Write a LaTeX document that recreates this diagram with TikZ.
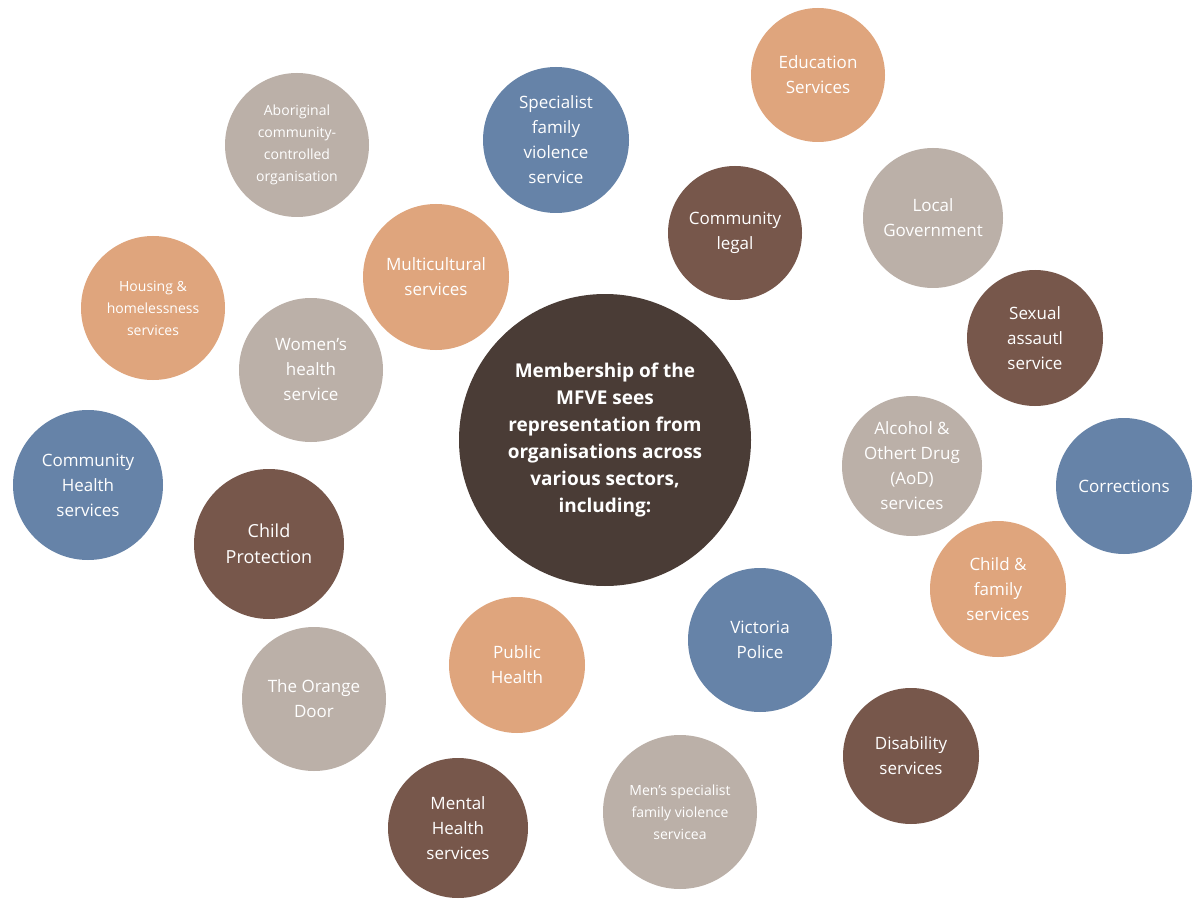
\documentclass[tikz,border=0pt]{standalone}
\usepackage{fontspec}
\setmainfont{Open Sans}
\usetikzlibrary{backgrounds}
\definecolor{cblue}{HTML}{6683A8}
\definecolor{corange}{HTML}{DFA57D}
\definecolor{cgrey}{HTML}{BBB0A8}
\definecolor{cbrown}{HTML}{77574B}
\definecolor{ccentral}{HTML}{4A3C36}
\definecolor{cline}{HTML}{A09A96}
\tikzset{
 bub/.style={circle,inner sep=0pt,text=white,align=center,font=\fontsize{17}{25}\selectfont},
 sm/.style={font=\fontsize{14}{22}\selectfont},
 lnk/.style={draw=cline,line width=2.2pt,dash pattern=on 2.2pt off 2.8pt},
}
\begin{document}
\begin{tikzpicture}[x=1pt,y=-1pt]
\useasboundingbox[fill=white] (0,0) rectangle (1200,912);
\node[bub,fill=ccentral,minimum size=292pt,font=\bfseries\fontsize{19}{27}\selectfont] (c) at (605,440) {Membership of the\\MFVE sees\\representation from\\organisations across\\various sectors,\\including:};
\node[bub,fill=corange,minimum size=134pt] (edu) at (818,75) {Education\\Services};
\node[bub,fill=cblue,minimum size=146pt] (sfv) at (556,140) {Specialist\\family\\violence\\service};
\node[bub,sm,fill=cgrey,minimum size=144pt] (abo) at (297,145) {Aboriginal\\community-\\controlled\\organisation};
\node[bub,fill=cbrown,minimum size=134pt] (cl) at (735,233) {Community\\legal};
\node[bub,fill=cgrey,minimum size=140pt] (lg) at (933,218) {Local\\Government};
\node[bub,fill=corange,minimum size=146pt] (mc) at (436,277) {Multicultural\\services};
\node[bub,sm,fill=corange,minimum size=144pt] (hs) at (153,308) {Housing \&\\homelessness\\services};
\node[bub,fill=cgrey,minimum size=144pt] (wh) at (311,370) {Women’s\\health\\service};
\node[bub,fill=cbrown,minimum size=136pt] (sa) at (1035,338) {Sexual\\assautl\\service};
\node[bub,fill=cblue,minimum size=150pt] (ch) at (88,485) {Community\\Health\\services};
\node[bub,fill=cgrey,minimum size=140pt] (ad) at (912,466) {Alcohol \&\\Othert Drug\\(AoD)\\services};
\node[bub,fill=cblue,minimum size=136pt] (co) at (1124,486) {Corrections};
\node[bub,fill=cbrown,minimum size=150pt,font=\fontsize{18}{26}\selectfont] (cp) at (269,544) {Child\\Protection};
\node[bub,fill=corange,minimum size=136pt] (cf) at (998,589) {Child \&\\family\\services};
\node[bub,fill=cblue,minimum size=144pt] (vp) at (760,640) {Victoria\\Police};
\node[bub,fill=corange,minimum size=136pt] (ph) at (517,665) {Public\\Health};
\node[bub,fill=cgrey,minimum size=144pt] (od) at (314,699) {The Orange\\Door};
\node[bub,fill=cbrown,minimum size=136pt] (ds) at (911,756) {Disability\\services};
\node[bub,sm,fill=cgrey,minimum size=154pt] (ms) at (680,812) {Men’s specialist\\family violence\\servicea};
\node[bub,fill=cbrown,minimum size=140pt] (mh) at (458,828) {Mental\\Health\\services};
\begin{scope}[on background layer]
\foreach \n in {sfv,cl,lg,mc,wh,sa,ch,ad,cp,cf,vp,ph,od,ms} \draw[lnk] (c) -- (\n);
\draw[lnk] (edu) -- (cl);
\draw[lnk] (abo) -- (mc);
\draw[lnk] (hs) -- (wh);
\draw[lnk] (ad) -- (co);
\draw[lnk] (vp) -- (ds);
\draw[lnk] (ph) -- (mh);
\end{scope}
\end{tikzpicture}
\end{document}
